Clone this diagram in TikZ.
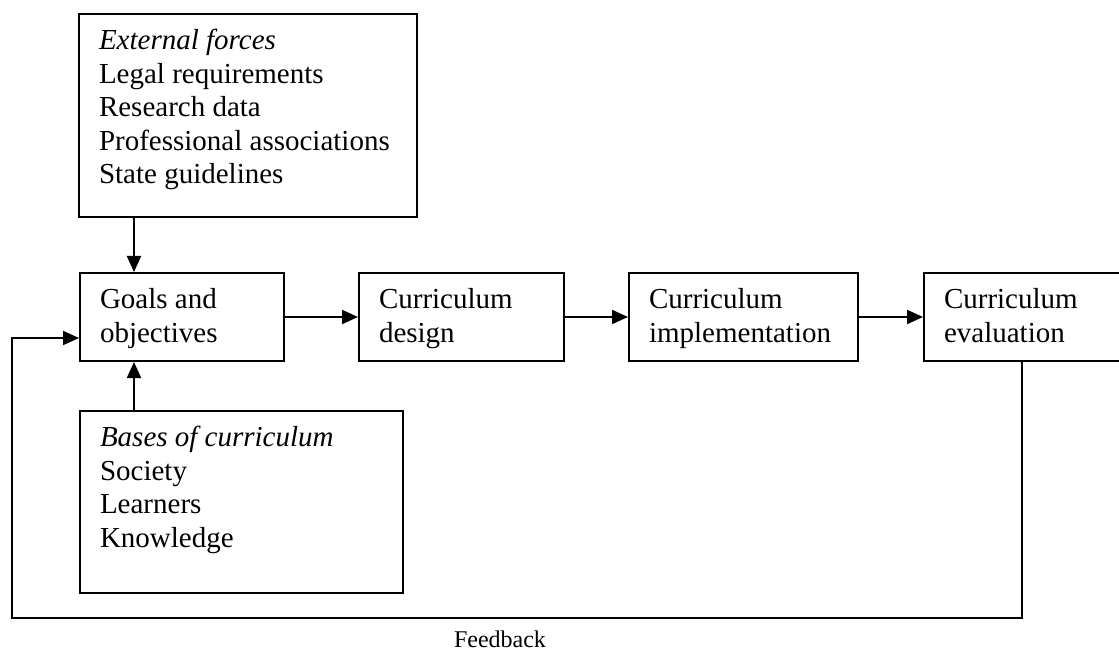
\documentclass[tikz,border=0pt]{standalone}
\usepackage{fontspec}
\setmainfont{Liberation Serif}
\usetikzlibrary{arrows.meta,calc}
\newcommand{\boxtxt}[3]{\parbox[t][#1][t]{#2}{\strut #3}}
\begin{document}
\begin{tikzpicture}[x=1pt,y=-1pt,
  box/.style={draw, line width=2pt, anchor=north west, inner xsep=20pt, inner ysep=12.5pt,
    align=left, font=\fontsize{29}{33.5}\selectfont},
  arr/.style={line width=2pt, -{Triangle[length=16pt,width=14pt]}},
  fline/.style={line width=2pt}]
\useasboundingbox (0,0) rectangle (1119,652);
\clip (0,0) rectangle (1119,652);
\node[box] (ext) at (78,13) {\boxtxt{178pt}{298pt}{\textit{External forces}\\Legal requirements\\Research data\\Professional associations\\State guidelines}};
\node[box] (goals) at (79,272) {\boxtxt{63pt}{164pt}{Goals and\\objectives}};
\node[box] (design) at (358,272) {\boxtxt{63pt}{165pt}{Curriculum\\design}};
\node[box] (impl) at (628,272) {\boxtxt{63pt}{189pt}{Curriculum\\implementation}};
\node[box] (eval) at (923,272) {\boxtxt{63pt}{165pt}{Curriculum\\evaluation}};
\node[box] (bases) at (79,410) {\boxtxt{157pt}{283pt}{\textit{Bases of curriculum}\\Society\\Learners\\Knowledge}};
\node[font=\fontsize{24}{28}\selectfont, anchor=base] (fb) at (500,647) {Feedback};
\coordinate (vx) at (134,0);
\coordinate (fx) at (1022,0);
\coordinate (lx) at (12,0);
\coordinate (fy) at (0,618);
\coordinate (iy) at (0,338);
\draw[arr] (vx |- ext.south) -- (vx |- goals.north);
\draw[arr] (vx |- bases.north) -- (vx |- goals.south);
\draw[arr] (goals.east) -- (design.west);
\draw[arr] (design.east) -- (impl.west);
\draw[arr] (impl.east) -- (eval.west);
\draw[arr] (fx |- eval.south) -- (fx |- fy) -- (lx |- fy) -- (lx |- iy) -- (goals.west |- iy);
\end{tikzpicture}
\end{document}
